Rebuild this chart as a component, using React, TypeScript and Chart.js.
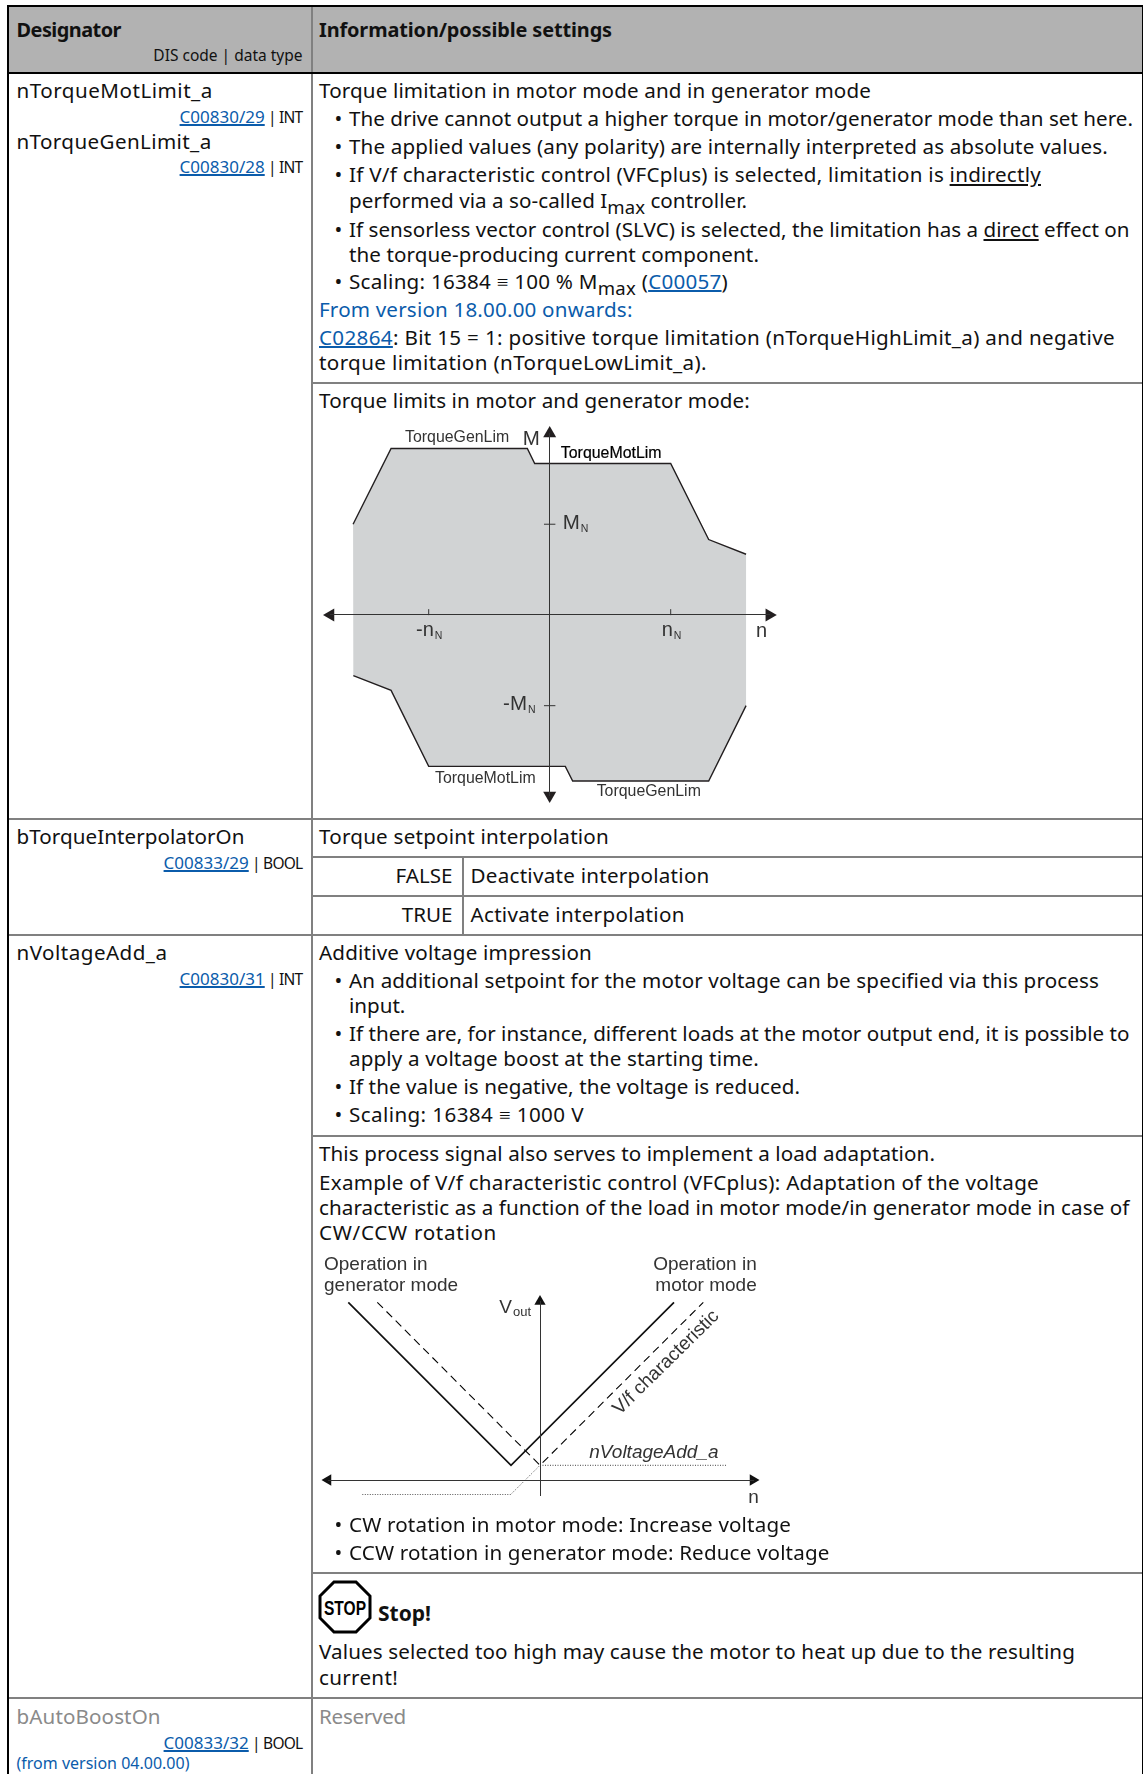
import React, { useEffect, useLayoutEffect, useRef } from "react";
import { Chart, registerables } from "chart.js";

Chart.register(...registerables);

// ---------- Torque chart data (x in nN, y in MN) ----------
const torqueUpperX = [-1.625, -1.311, -0.185, -0.124, 1.0, 1.314, 1.623];
const torqueUpperY = [1.0, 1.835, 1.835, 1.669, 1.669, 0.831, 0.669];
const torqueLowerX = [1.623, 1.314, 0.19, 0.129, -1.0, -1.311, -1.623];
const torqueLowerY = [-1.0, -1.831, -1.831, -1.669, -1.669, -0.831, -0.669];
const torqueRangeX = [-1.8116, 1.815];
const torqueRangeY = [-1.99, 2.0];
const torqueLabels = [
  { t: "TorqueGenLim", x: -1.196, y: 1.907, s: 15.9 },
  { t: "M", x: -0.222, y: 1.874, s: 20.5 },
  { t: "TorqueMotLim", x: 0.092, y: 1.728, s: 15.9, c: "#000", h: true },
  { t: "M", sub: "N", x: 0.108, y: 0.945, s: 20.5 },
  { t: "-n", sub: "N", x: -1.105, y: -0.23, s: 20 },
  { t: "n", sub: "N", x: 0.926, y: -0.23, s: 20 },
  { t: "n", x: 1.705, y: -0.239, s: 20 },
  { t: "-M", sub: "N", x: -0.385, y: -1.05, s: 20.5 },
  { t: "TorqueMotLim", x: -0.948, y: -1.849, s: 15.9 },
  { t: "TorqueGenLim", x: 0.388, y: -1.996, s: 15.9 },
];

// ---------- Voltage chart data ----------
const adaptedX = [-1.917, -0.29, 1.34];
const adaptedY = [1.777, 0.147, 1.777];
const characteristicX = [-1.627, 0, 1.633];
const characteristicY = [1.777, 0.147, 1.777];
const offsetHighX = [0, 1.873];
const offsetHighY = [0.147, 0.147];
const offsetLowX = [-1.777, -0.293, 0];
const offsetLowY = [-0.145, -0.145, 0.147];
const voltageRangeX = [-2.12, 2.13];
const voltageRangeY = [-0.15, 1.785];
const voltageLabels = [
  { t: "Operation in", x: -2.16, y: 2.1, s: 19 },
  { t: "generator mode", x: -2.16, y: 1.893, s: 19 },
  { t: "Operation in", x: 2.167, y: 2.1, s: 19, a: "right" },
  { t: "motor mode", x: 2.167, y: 1.893, s: 19, a: "right" },
  { t: "V", sub: "out", x: -0.407, y: 1.667, s: 19, ss: 13 },
  { t: "nVoltageAdd_a", x: 0.493, y: 0.223, s: 19, i: true },
  { t: "V/f characteristic", x: 0.797, y: 0.645, s: 19, r: -44.5 },
  { t: "n", x: 2.083, y: -0.227, s: 19 },
];

const zip = (xs: number[], ys: number[]) => xs.map((x, i) => ({ x, y: ys[i] }));

const labelPlugin = {
  id: "figureLabels",
  afterDraw(chart: any, _a: any, opts: any) {
    const { ctx, scales } = chart;
    ctx.save();
    ctx.textBaseline = "alphabetic";
    for (const l of opts.items || []) {
      const px = scales.x.getPixelForValue(l.x);
      const py = scales.y.getPixelForValue(l.y);
      ctx.save();
      ctx.translate(px, py);
      if (l.r) ctx.rotate((l.r * Math.PI) / 180);
      ctx.fillStyle = l.c || "#333";
      ctx.textAlign = l.a || "left";
      ctx.font = `${l.i ? "italic " : ""}${l.s}px "Liberation Sans"`;
      ctx.fillText(l.t, 0, 0);
      if (l.h) {
        ctx.strokeStyle = l.c;
        ctx.lineWidth = 0.2;
        ctx.strokeText(l.t, 0, 0);
      }
      if (l.sub) {
        const w = ctx.measureText(l.t).width;
        ctx.font = `${l.ss || 10.5}px "Liberation Sans"`;
        ctx.fillText(l.sub, w + 1, 3);
      }
      ctx.restore();
    }
    ctx.restore();
  },
};

function baseOptions(rangeX: number[], rangeY: number[], padding: any, items: any[]) {
  const axis = { color: "#333", width: 1, z: 1 };
  return {
    animation: false as const,
    responsive: false,
    devicePixelRatio: 1,
    layout: { padding },
    plugins: { legend: { display: false }, tooltip: { enabled: false }, figureLabels: { items } },
    scales: {
      x: {
        type: "linear" as const,
        min: rangeX[0],
        max: rangeX[1],
        position: { y: 0 },
        grid: { display: false },
        ticks: { display: false },
        border: axis,
      },
      y: {
        type: "linear" as const,
        min: rangeY[0],
        max: rangeY[1],
        position: { x: 0 },
        grid: { display: false },
        ticks: { display: false },
        border: axis,
      },
    },
  };
}

function arrows(rangeX: number[], rangeY: number[], radius: number, color: string) {
  return {
    data: [
      { x: rangeX[0], y: 0 },
      { x: rangeX[1], y: 0 },
      { x: 0, y: rangeY[1] },
      ...(radius > 7 ? [{ x: 0, y: rangeY[0] }] : []),
    ],
    showLine: false,
    clip: false,
    pointStyle: "triangle",
    pointRadius: radius,
    pointRotation: [-90, 90, 0, 180],
    pointBackgroundColor: color,
    pointBorderWidth: 0,
  };
}

function TorqueChart() {
  const ref = useRef<HTMLCanvasElement>(null);
  useEffect(() => {
    const outline = zip(torqueUpperX, torqueUpperY).concat(zip(torqueLowerX, torqueLowerY));
    const chart = new Chart(ref.current!, {
      type: "scatter",
      plugins: [labelPlugin],
      data: {
        datasets: [
          arrows(torqueRangeX, torqueRangeY, 7.5, "#231f20"),
          {
            data: [{ x: -1, y: 0.031 }, { x: 1, y: 0.031 }],
            showLine: false,
            pointStyle: "line",
            pointRadius: 3,
            pointRotation: 90,
            pointBorderColor: "#333",
            pointBorderWidth: 1,
          },
          {
            data: [{ x: 0, y: 1 }, { x: 0, y: -1 }],
            showLine: false,
            pointStyle: "line",
            pointRadius: 5.7,
            pointBorderColor: "#333",
            pointBorderWidth: 1,
          },
          {
            data: zip(torqueUpperX, torqueUpperY),
            showLine: true,
            borderColor: "#231f20",
            borderWidth: 1.4,
            pointRadius: 0,
            fill: false,
          },
          {
            data: zip(torqueLowerX, torqueLowerY),
            showLine: true,
            borderColor: "#231f20",
            borderWidth: 1.4,
            pointRadius: 0,
            fill: false,
          },
          {
            data: outline,
            showLine: true,
            borderWidth: 0,
            pointRadius: 0,
            backgroundColor: "#d1d3d4",
            fill: "shape",
          },
        ] as any,
      },
      options: baseOptions(torqueRangeX, torqueRangeY, { left: 30.5, right: 30.7, top: 23.5, bottom: 14.5 }, torqueLabels) as any,
    });
    return () => chart.destroy();
  }, []);
  return <canvas ref={ref} width={500} height={400} style={{ position: "absolute", left: 300, top: 410, width: 500, height: 400 }} />;
}

function VoltageChart() {
  const ref = useRef<HTMLCanvasElement>(null);
  useEffect(() => {
    const chart = new Chart(ref.current!, {
      type: "scatter",
      plugins: [labelPlugin],
      data: {
        datasets: [
          arrows(voltageRangeX, voltageRangeY, 6.5, "#111"),
          {
            data: zip(adaptedX, adaptedY),
            showLine: true,
            borderColor: "#111",
            borderWidth: 1.7,
            pointRadius: 0,
            borderJoinStyle: "miter",
          },
          {
            data: zip(characteristicX, characteristicY),
            showLine: true,
            borderColor: "#000",
            borderWidth: 1.1,
            borderDash: [8, 5],
            pointRadius: 0,
          },
          {
            data: zip(offsetHighX, offsetHighY),
            showLine: true,
            borderColor: "#444",
            borderWidth: 1,
            borderDash: [1, 1.5],
            pointRadius: 0,
          },
          {
            data: zip(offsetLowX, offsetLowY),
            showLine: true,
            clip: false,
            borderColor: "#555",
            borderWidth: 1,
            borderDash: [1, 1.5],
            pointRadius: 0,
          },
        ] as any,
      },
      options: baseOptions(voltageRangeX, voltageRangeY, { left: 28, right: 27, top: 61.5, bottom: 45 }, voltageLabels) as any,
    });
    return () => chart.destroy();
  }, []);
  return <canvas ref={ref} width={480} height={300} style={{ position: "absolute", left: 300, top: 1240, width: 480, height: 300 }} />;
}

// ---------- Document table ----------
const FONT = '"Noto Sans"';
const BODY = 20.6;
const BOLD = 19.9;
const SMALL = 15.5;
const LINK = 17;
const BLUE = "#0b5cab";
const ASC = 0.388; // baseline offset of a zero line-height box for this font

// `e` is the x where the line ends in the reference; letter spacing is fitted to reach it.
function T({ x, r, y, e, s = BODY, c = "#111", b, children }: any) {
  const el = useRef<HTMLDivElement>(null);
  useLayoutEffect(() => {
    if (e === undefined || !el.current) return;
    const node = el.current;
    node.style.letterSpacing = "0px";
    const w = node.getBoundingClientRect().width;
    const n = (node.textContent || "").length;
    node.style.letterSpacing = `${(e - x - w) / n}px`;
  }, [e, x]);
  const style: React.CSSProperties = {
    position: "absolute",
    top: y - ASC * s,
    fontSize: s,
    lineHeight: 0,
    color: c,
    whiteSpace: "pre",
    fontWeight: b ? 700 : 400,
  };
  if (r !== undefined) style.right = 1143 - r;
  else style.left = x;
  return <div ref={el} style={style}>{children}</div>;
}

const L = ({ children }: any) => (
  <span style={{ color: BLUE, textDecoration: "underline", textDecorationThickness: 1.5 }}>{children}</span>
);
// small link followed by its tightly set data type
const Code = ({ link, type }: any) => (
  <>
    <span style={{ color: BLUE, fontSize: LINK, textDecoration: "underline", textDecorationThickness: 1.5 }}>{link}</span>
    <span style={{ letterSpacing: -0.75 }}>{` | ${type}`}</span>
  </>
);
const U = ({ children }: any) => <span style={{ textDecoration: "underline" }}>{children}</span>;
const Sub = ({ children }: any) => (
  <span style={{ display: "inline-block", lineHeight: 0, fontSize: "0.9em", position: "relative", top: "0.3em" }}>{children}</span>
);

function Box({ x, y, w, h, c = "#808080" }: any) {
  return <div style={{ position: "absolute", left: x, top: y, width: w, height: h, background: c }} />;
}

function Bul({ y, e, children }: any) {
  return (
    <>
      <T x={334.5} y={y}>•</T>
      <T x={349} y={y} e={e}>{children}</T>
    </>
  );
}

const RIGHT = 302.5;
const COL = 319;

function StopIcon() {
  return (
    <svg width={54} height={54} style={{ position: "absolute", left: 318, top: 1580 }}>
      <polygon points="16,2 38,2 52,16 52,38 38,52 16,52 2,38 2,16" fill="#fff" stroke="#000" strokeWidth={3} />
      <text x={6} y={35} fontFamily='"Liberation Sans"' fontWeight={700} fontSize={20} textLength={42} lengthAdjust="spacingAndGlyphs">STOP</text>
    </svg>
  );
}

export default function App() {
  return (
    <div style={{ position: "absolute", left: 0, top: 0, width: 1143, height: 1774, background: "#fff", overflow: "hidden", fontFamily: FONT }}>
      {/* header */}
      <Box x={8} y={6} w={1134} h={66} c="#b2b2b2" />
      {/* rules */}
      <Box x={311} y={7} w={2} h={1767} />
      <Box x={8} y={818} w={1134} h={2} />
      <Box x={8} y={934} w={1134} h={2} />
      <Box x={8} y={1697} w={1134} h={2} />
      <Box x={312} y={382} w={830} h={2} />
      <Box x={312} y={856} w={830} h={2} />
      <Box x={312} y={895} w={830} h={2} />
      <Box x={312} y={1135} w={830} h={2} />
      <Box x={312} y={1572} w={830} h={2} />
      <Box x={462} y={857} w={2} h={78} />
      {/* outer */}
      <Box x={7} y={5} w={1136} h={2} c="#000" />
      <Box x={7} y={72} w={1136} h={2} c="#000" />
      <Box x={7} y={5} w={2} h={1769} c="#000" />
      <Box x={1141.5} y={5} w={1.5} h={1769} c="#000" />

      <T x={16.5} y={37.5} e={121} s={BOLD} b>Designator</T>
      <T r={RIGHT} y={61.5} s={SMALL}>DIS code | data type</T>
      <T x={COL} y={37.5} e={612} s={BOLD} b>Information/possible settings</T>

      <T x={16.5} y={97.5} e={212.8}>nTorqueMotLimit_a</T>
      <T r={RIGHT} y={123.5} s={SMALL}><Code link="C00830/29" type="INT" /></T>
      <T x={16.5} y={149} e={211.6}>nTorqueGenLimit_a</T>
      <T r={RIGHT} y={173.5} s={SMALL}><Code link="C00830/28" type="INT" /></T>

      <T x={COL} y={97.5} e={871}>Torque limitation in motor mode and in generator mode</T>
      <Bul y={126} e={1133}>The drive cannot output a higher torque in motor/generator mode than set here.</Bul>
      <Bul y={154} e={1108}>The applied values (any polarity) are internally interpreted as absolute values.</Bul>
      <Bul y={182} e={1041}>If V/f characteristic control (VFCplus) is selected, limitation is <U>indirectly</U></Bul>
      <T x={349} y={208} e={747}>performed via a so-called I<Sub>max</Sub> controller.</T>
      <Bul y={236.5} e={1129.5}>If sensorless vector control (SLVC) is selected, the limitation has a <U>direct</U> effect on</Bul>
      <T x={349} y={261.5} e={759}>the torque-producing current component.</T>
      <Bul y={289} e={728}>Scaling: 16384 ≡ 100 % M<Sub>max</Sub> (<L>C00057</L>)</Bul>
      <T x={COL} y={317} e={632.6} c={BLUE}>From version 18.00.00 onwards:</T>
      <T x={COL} y={345} e={1115}><L>C02864</L>: Bit 15 = 1: positive torque limitation (nTorqueHighLimit_a) and negative</T>
      <T x={COL} y={370} e={707}>torque limitation (nTorqueLowLimit_a).</T>
      <T x={COL} y={408} e={750}>Torque limits in motor and generator mode:</T>
      <TorqueChart />

      <T x={16.5} y={844} e={244.5}>bTorqueInterpolatorOn</T>
      <T r={RIGHT} y={869} s={SMALL}><Code link="C00833/29" type="BOOL" /></T>
      <T x={COL} y={844} e={609}>Torque setpoint interpolation</T>
      <T r={452.5} y={882.5}>FALSE</T>
      <T x={470.5} y={882.5} e={709.6}>Deactivate interpolation</T>
      <T r={452.5} y={921.5}>TRUE</T>
      <T x={470.5} y={921.5} e={684.7}>Activate interpolation</T>

      <T x={16.5} y={960} e={167.5}>nVoltageAdd_a</T>
      <T r={RIGHT} y={985.5} s={SMALL}><Code link="C00830/31" type="INT" /></T>
      <T x={COL} y={960} e={592}>Additive voltage impression</T>
      <Bul y={988} e={1099}>An additional setpoint for the motor voltage can be specified via this process</Bul>
      <T x={349} y={1013}>input.</T>
      <Bul y={1041} e={1129.5}>If there are, for instance, different loads at the motor output end, it is possible to</Bul>
      <T x={349} y={1066} e={759}>apply a voltage boost at the starting time.</T>
      <Bul y={1094} e={800}>If the value is negative, the voltage is reduced.</Bul>
      <Bul y={1122} e={584}>Scaling: 16384 ≡ 1000 V</Bul>
      <T x={COL} y={1161} e={935}>This process signal also serves to implement a load adaptation.</T>
      <T x={COL} y={1189.5} e={1039}>Example of V/f characteristic control (VFCplus): Adaptation of the voltage</T>
      <T x={COL} y={1214.5} e={1129.5}>characteristic as a function of the load in motor mode/in generator mode in case of</T>
      <T x={COL} y={1239.5} e={497}>CW/CCW rotation</T>
      <VoltageChart />
      <Bul y={1531.5} e={791}>CW rotation in motor mode: Increase voltage</Bul>
      <Bul y={1560} e={829.5}>CCW rotation in generator mode: Reduce voltage</Bul>
      <StopIcon />
      <T x={378} y={1621} s={21} b>Stop!</T>
      <T x={COL} y={1659} e={1075}>Values selected too high may cause the motor to heat up due to the resulting</T>
      <T x={COL} y={1685} e={398}>current!</T>

      <T x={16.5} y={1724} e={160.7} c="#8a8a8a">bAutoBoostOn</T>
      <T r={RIGHT} y={1749} s={SMALL}><Code link="C00833/32" type="BOOL" /></T>
      <T x={16.5} y={1769} s={16} c={BLUE}>(from version 04.00.00)</T>
      <T x={COL} y={1724} e={406} c="#8a8a8a">Reserved</T>
    </div>
  );
}
